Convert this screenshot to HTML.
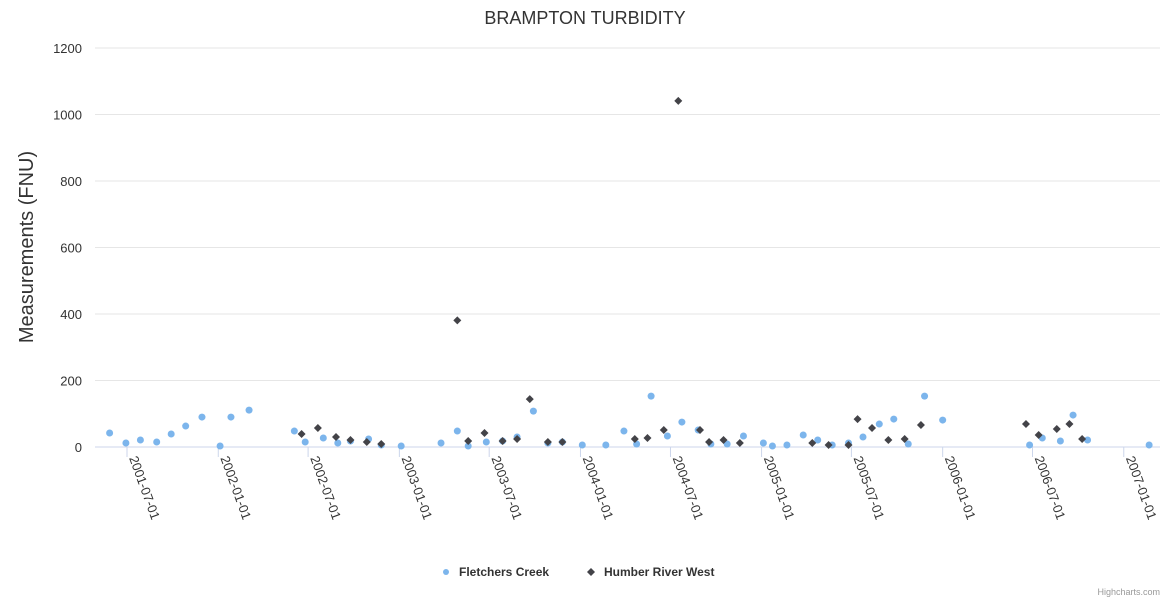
<!DOCTYPE html>
<html><head><meta charset="utf-8"><style>
body{margin:0;background:#fff;font-family:"Liberation Sans",sans-serif}
svg{display:block}
</style></head><body>
<svg id="chart" width="1170" height="600" xmlns="http://www.w3.org/2000/svg" font-family="Liberation Sans, sans-serif">
<rect width="1170" height="600" fill="#fff"/>
<text x="585" y="24" text-anchor="middle" font-size="18" fill="#333">BRAMPTON TURBIDITY</text>
<g id="grid"></g><g id="xaxis"></g><g id="yaxis"></g><g id="marks"></g>
<text transform="translate(33,247) rotate(-90)" text-anchor="middle" font-size="20" fill="#333">Measurements (FNU)</text>
<g>
<g><circle cx="446" cy="572" r="3" fill="#7cb5ec"/><text x="459" y="576" font-size="12" font-weight="bold" fill="#333">Fletchers Creek</text></g>
<g><path d="M591 568 L595 572 L591 576 L587 572 Z" fill="#434348"/><text x="604" y="576" font-size="12" font-weight="bold" fill="#333">Humber River West</text></g>
</g>
<text x="1160" y="595" text-anchor="end" font-size="9" fill="#999">Highcharts.com</text>
</svg>
<script>
const yTicks=[0,200,400,600,800,1000,1200];
const xTickYears=[2001.496,2002.0,2002.496,2003.0,2003.496,2004.0,2004.497,2005.0,2005.496,2006.0,2006.496,2007.0];
const xTickLabels=["2001-07-01","2002-01-01","2002-07-01","2003-01-01","2003-07-01","2004-01-01","2004-07-01","2005-01-01","2005-07-01","2006-01-01","2006-07-01","2007-01-01"];
const fletchersT=[2001.40,2001.49,2001.57,2001.66,2001.74,2001.82,2001.91,2002.01,2002.07,2002.17,2002.42,2002.48,2002.58,2002.66,2002.73,2002.83,2002.90,2003.01,2003.23,2003.32,2003.38,2003.48,2003.57,2003.65,2003.74,2003.82,2003.90,2004.01,2004.14,2004.24,2004.31,2004.39,2004.48,2004.56,2004.65,2004.72,2004.81,2004.90,2005.01,2005.06,2005.14,2005.23,2005.31,2005.39,2005.48,2005.56,2005.65,2005.73,2005.81,2005.90,2006.00,2006.48,2006.55,2006.65,2006.72,2006.80,2007.14];
const fletchersV=[42,12,21,15,39,63,90,3,90,111,48,15,27,12,18,24,6,3,12,48,3,15,18,30,108,12,15,6,6,48,9,153,33,75,51,9,9,33,12,3,6,36,21,6,12,30,69,84,9,153,81,6,27,18,96,21,6];
const humberT=[2002.46,2002.55,2002.65,2002.73,2002.82,2002.90,2003.32,2003.38,2003.47,2003.57,2003.65,2003.72,2003.82,2003.90,2004.30,2004.37,2004.46,2004.54,2004.66,2004.71,2004.79,2004.88,2005.28,2005.37,2005.48,2005.53,2005.61,2005.70,2005.79,2005.88,2006.46,2006.53,2006.63,2006.70,2006.77];
const humberV=[39,57,30,21,15,9,381,18,42,18,24,144,15,15,24,27,51,1041,51,15,21,12,12,6,6,84,57,21,24,66,69,36,54,69,24];
const NS="http://www.w3.org/2000/svg";
const X=t=>127+(t-2001.496)*181.1;
const Y=v=>447-v*(399/1200);
function mk(tag,attrs,parent){const e=document.createElementNS(NS,tag);for(const k in attrs)e.setAttribute(k,attrs[k]);parent.appendChild(e);return e;}
const grid=document.getElementById('grid'),ya=document.getElementById('yaxis'),xa=document.getElementById('xaxis'),marks=document.getElementById('marks');
yTicks.forEach(v=>{
 const l=mk('line',{x1:95,x2:1160,y1:Y(v),y2:Y(v),stroke:v===0?'#ccd6eb':'#e6e6e6','stroke-width':1},grid);
 
 
 const t=mk('text',{x:82,y:Y(v)+5,'text-anchor':'end','font-size':13,fill:'#333'},ya);
 t.textContent=v;
 
 
});
xTickYears.forEach((yr,i)=>{
 const x=X(yr);
 const tk=mk('line',{x1:x,x2:x,y1:447,y2:457,stroke:'#ccd6eb'},xa);
 
 
 const t=mk('text',{x:0,y:0,'font-size':13,fill:'#333',transform:`translate(${x+2},${458}) rotate(70)`},xa);
 t.textContent=xTickLabels[i];
 
 
});
fletchersT.forEach((t,i)=>{
 const c=mk('circle',{cx:X(t),cy:Y(fletchersV[i]),r:3.5,fill:'#7cb5ec'},marks);
 
 
});
humberT.forEach((t,i)=>{
 const x=X(humberT[i]),y=Y(humberV[i]);
 const p=mk('path',{d:`M${x} ${y-4} L${x+4} ${y} L${x} ${y+4} L${x-4} ${y} Z`,fill:'#434348'},marks);
 
 
});
</script>
</body></html>
